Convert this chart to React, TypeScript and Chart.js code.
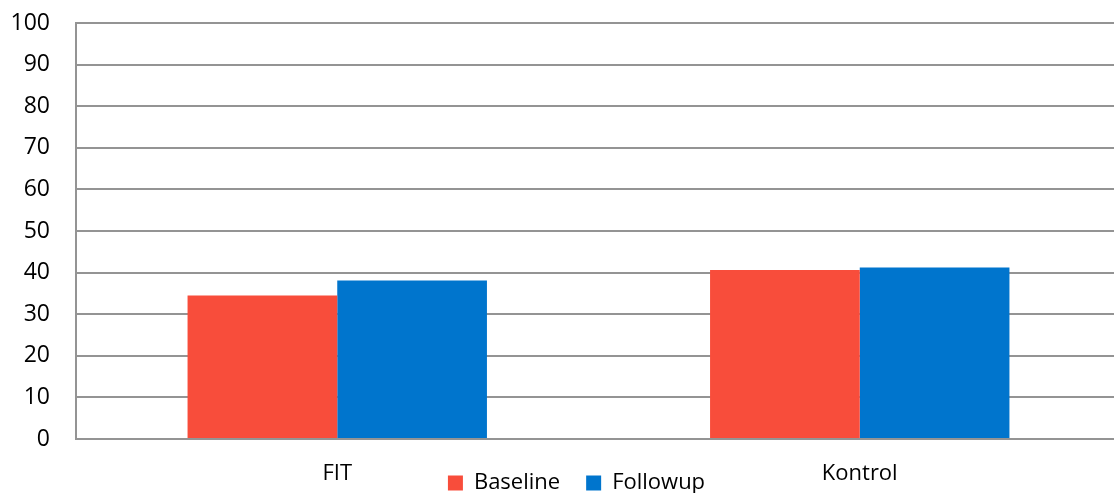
import { useEffect, useRef } from 'react';
import { Chart, registerables } from 'chart.js';

Chart.register(...registerables);

// Grouped bar chart: Baseline vs Followup per group
const groups: string[] = ['FIT', 'Kontrol'];
const baselineValues: number[] = [34.5, 40.6];
const followupValues: number[] = [38.1, 41.2];
const seriesNames: string[] = ['Baseline', 'Followup'];
const yMin = 0;
const yMax = 100;
const yStep = 10;

const FONT = '"Open Sans", "DejaVu Sans", sans-serif';
const TEXT = '#000000';
const GRID = '#949494';

// moves the legend row up so it sits between the category labels
const legendShift = {
  id: 'legendShift',
  afterLayout(chart: any) {
    const lg = chart.legend;
    if (lg) {
      lg.left += 16;
      lg.right += 16;
      lg.top -= 43;
      lg.bottom -= 43;
    }
  },
};

export default function App() {
  const canvasRef = useRef<HTMLCanvasElement | null>(null);

  useEffect(() => {
    if (!canvasRef.current) return;
    const chart = new Chart(canvasRef.current, {
      type: 'bar',
      data: {
        labels: groups,
        datasets: [
          {
            label: seriesNames[0],
            data: baselineValues,
            backgroundColor: '#f84d3b',
            borderWidth: 0,
          },
          {
            label: seriesNames[1],
            data: followupValues,
            backgroundColor: '#0075cd',
            borderWidth: 0,
          },
        ],
      },
      options: {
        animation: false,
        responsive: false,
        maintainAspectRatio: false,
        layout: { padding: { left: 0, top: 23, right: 0, bottom: -54 } },
        datasets: {
          bar: { categoryPercentage: 0.573, barPercentage: 1 },
        },
        plugins: {
          tooltip: { enabled: false },
          legend: {
            position: 'bottom',
            labels: {
              boxWidth: 15,
              boxHeight: 15,
              padding: 26,
              color: TEXT,
              font: { family: FONT, size: 22 },
            },
          },
        },
        scales: {
          x: {
            grid: { display: false, drawTicks: false },
            border: { display: true, color: GRID, width: 2 },
            ticks: {
              color: TEXT,
              padding: 22,
              autoSkip: false,
              font: { family: FONT, size: 22 },
            },
            afterFit: (scale: any) => {
              scale.height = 50;
            },
          },
          y: {
            min: yMin,
            max: yMax,
            grid: { color: GRID, lineWidth: 2, drawTicks: false },
            border: { display: true, color: GRID, width: 2 },
            ticks: {
              stepSize: yStep,
              color: TEXT,
              padding: 26,
              font: { family: FONT, size: 23 },
            },
            afterFit: (scale: any) => {
              scale.width = 76;
              scale.paddingTop = 0;
              scale.paddingBottom = 0;
            },
          },
        },
      },
      plugins: [legendShift],
    });
    return () => chart.destroy();
  }, []);

  return (
    <div style={{ position: 'fixed', left: 0, top: 0, width: 1121, height: 493, background: '#fff' }}>
      <canvas ref={canvasRef} width={1121} height={493} />
    </div>
  );
}
